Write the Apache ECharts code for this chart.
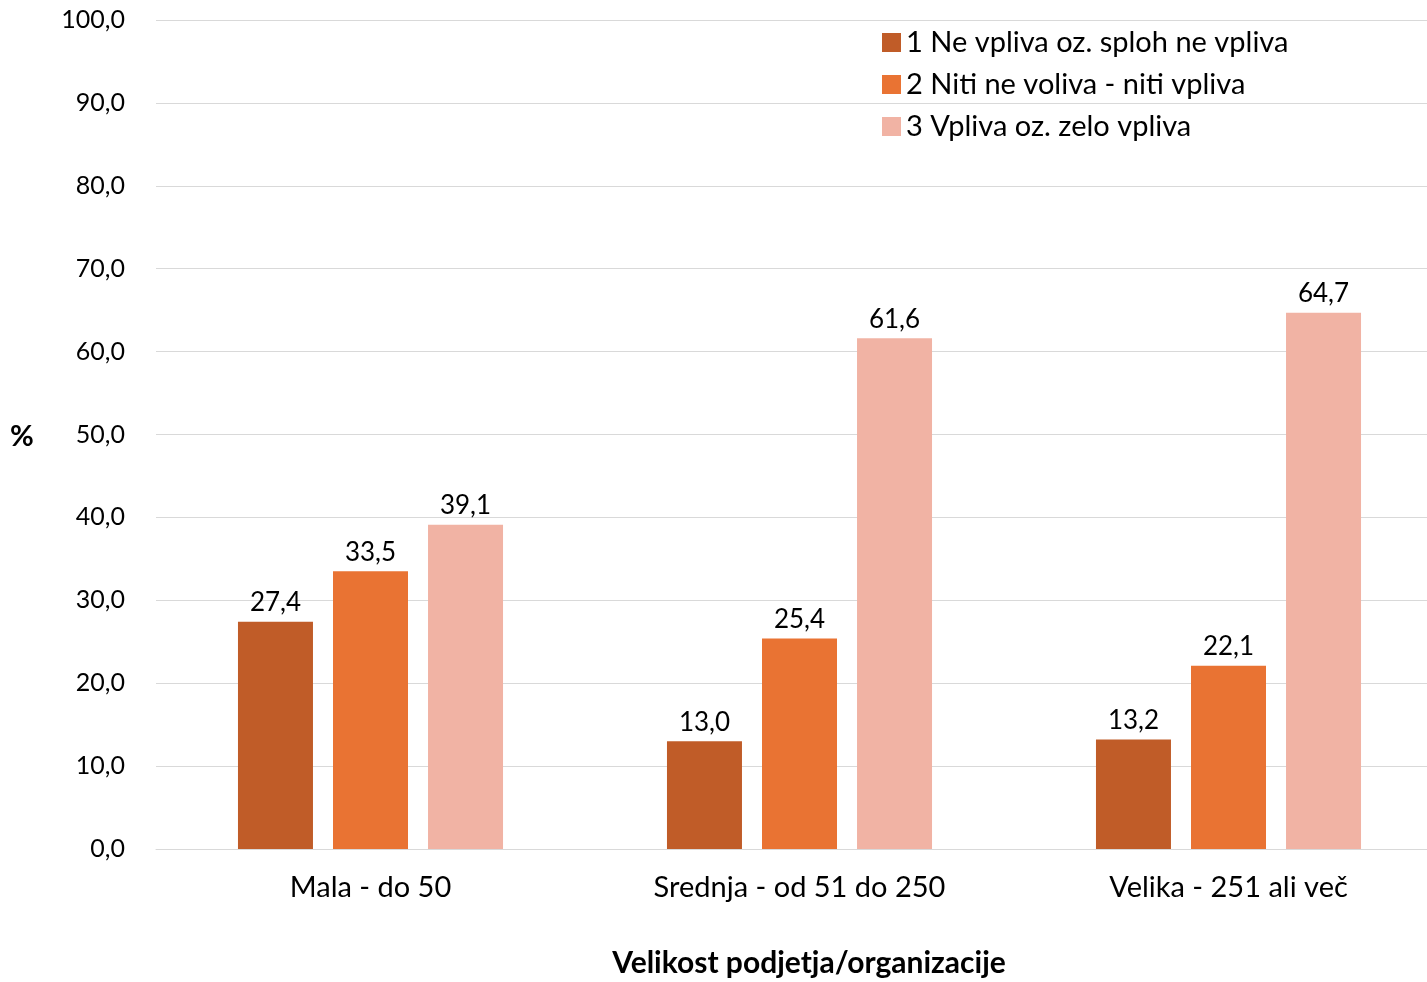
<!DOCTYPE html>
<html>
<head>
<meta charset="utf-8">
<script src="https://cdn.jsdelivr.net/npm/echarts@6/dist/echarts.min.js"></script>
<style>
  html, body { margin: 0; padding: 0; background: #fff; overflow: hidden; }
  #chart { width: 1427px; height: 982px; }
</style>
</head>
<body>
<div id="chart"></div>
<script>
const categories = ["Mala - do 50", "Srednja - od 51 do 250", "Velika - 251 ali več"];
const seriesNames = ["1 Ne vpliva oz. sploh ne vpliva", "2 Niti ne voliva - niti vpliva", "3 Vpliva oz. zelo vpliva"];
const neVpliva = [27.4, 13.0, 13.2];
const nitiNiti = [33.5, 25.4, 22.1];
const vpliva = [39.1, 61.6, 64.7];
const colors = ["#C05C28", "#E97333", "#F1B3A4"];

const font = "Lato, 'Open Sans', sans-serif";
const fmt = (v) => v.toFixed(1).replace(".", ",");

const chart = echarts.init(document.getElementById("chart"));

function bar(name, data, color) {
  return {
    name: name,
    type: "bar",
    data: data,
    barWidth: 75,
    barGap: "26.7%",
    itemStyle: { color: color },
    label: {
      show: true,
      position: "top",
      distance: 6,
      color: "#000",
      fontFamily: font,
      fontSize: 26,
      formatter: (p) => fmt(p.value)
    }
  };
}

chart.setOption({
  animation: false,
  textStyle: { fontFamily: font },
  color: colors,
  grid: { left: 156, width: 1287, top: 20, bottom: 133, containLabel: false, outerBoundsMode: "none" },
  legend: {
    orient: "vertical",
    left: 877,
    top: 23,
    itemWidth: 19,
    itemHeight: 19,
    itemGap: 13,
    icon: "rect",
    textStyle: { fontSize: 29, color: "#000", fontFamily: font },
    data: seriesNames
  },
  xAxis: {
    type: "category",
    data: categories,
    axisTick: { show: false },
    axisLine: { lineStyle: { color: "#d9d9d9", width: 1 } },
    axisLabel: { color: "#000", fontSize: 29, margin: 24, fontFamily: font }
  },
  yAxis: {
    type: "value",
    min: 0,
    max: 100,
    interval: 10,
    axisLine: { show: false },
    axisTick: { show: false },
    splitLine: { lineStyle: { color: "#d9d9d9", width: 1 } },
    axisLabel: {
      color: "#000",
      fontSize: 25,
      margin: 31,
      fontFamily: font,
      formatter: (v) => fmt(v)
    }
  },
  graphic: [
    {
      type: "text",
      left: 10,
      top: 422,
      style: { text: "%", font: "bold 29px " + font, fill: "#000" }
    },
    {
      type: "text",
      x: 809,
      y: 963,
      style: {
        text: "Velikost podjetja/organizacije",
        font: "bold 30px " + font,
        fill: "#000",
        align: "center",
        verticalAlign: "middle"
      }
    }
  ],
  series: [
    bar(seriesNames[0], neVpliva, colors[0]),
    bar(seriesNames[1], nitiNiti, colors[1]),
    bar(seriesNames[2], vpliva, colors[2])
  ]
});
</script>
</body>
</html>
